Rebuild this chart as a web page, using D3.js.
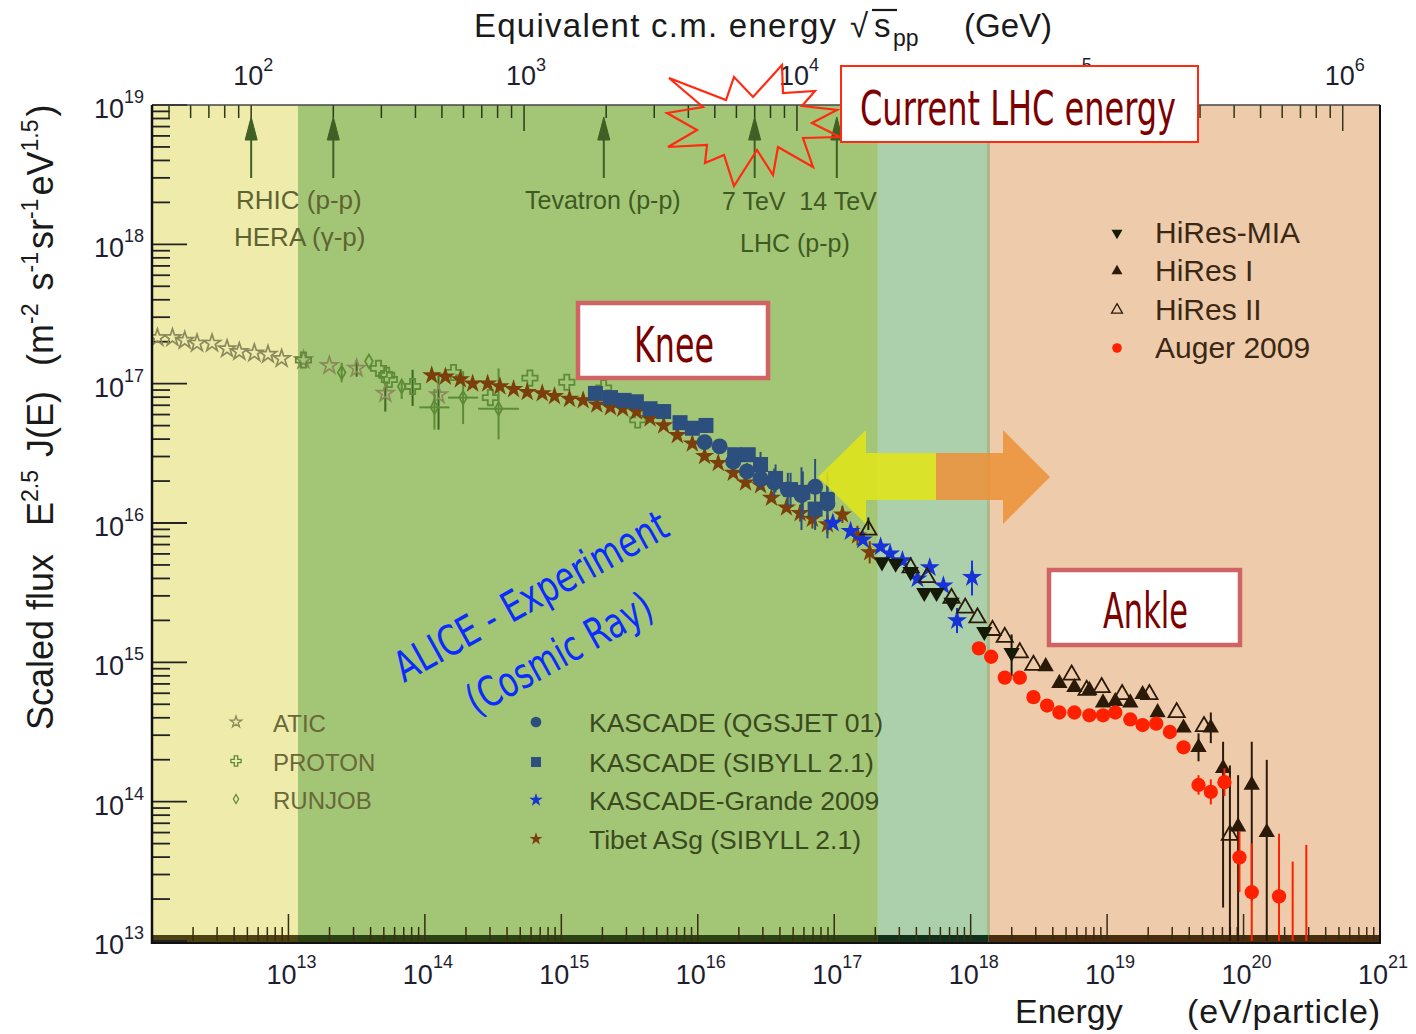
<!DOCTYPE html>
<html>
<head>
<meta charset="utf-8">
<title>Cosmic ray energy spectrum</title>
<script src="https://cdn.jsdelivr.net/npm/d3@7"></script>
<style>
  body { margin: 0; background: #fff; }
  svg { display: block; font-family: "Liberation Sans", Arial, sans-serif; }
  .narrow { font-family: "Liberation Sans Narrow", "DejaVu Sans Condensed", "Liberation Sans", sans-serif; }
</style>
</head>
<body>
<svg width="1416" height="1034"></svg>
<script>
// every point: [log10 E (eV), log10 scaled flux, err down (dex), err up (dex), x err (dex)]
const atic = [
  [12.04, 17.33], [12.15, 17.33], [12.24, 17.31], [12.33, 17.29], [12.44, 17.29],
  [12.55, 17.25], [12.64, 17.23], [12.75, 17.22], [12.85, 17.21], [12.95, 17.18],
  [13.11, 17.17], [13.30, 17.13], [13.50, 17.11, 0.06, 0.06], [13.71, 16.93, 0.13, 0.08],
  [14.10, 16.92, 0.25, 0.16]
];
const proton = [
  [13.11, 17.17], [13.66, 17.11], [13.72, 17.06], [13.74, 17.03], [13.91, 16.98, 0.14, 0.12],
  [14.21, 17.08], [14.48, 16.90], [14.77, 17.04], [15.04, 17.01], [15.31, 16.97], [15.56, 16.74]
];
const runjob = [
  [13.39, 17.08, 0.07, 0.07], [13.59, 17.16], [13.83, 16.98, 0.09, 0.05],
  [14.07, 16.83, 0.16, 0.13, 0.11], [14.28, 16.90, 0.19, 0.19, 0.11], [14.54, 16.82, 0.22, 0.29, 0.15]
];
const tibet = [
  [14.05, 17.06], [14.15, 17.05], [14.26, 17.03], [14.35, 17.00], [14.46, 17.00],
  [14.55, 16.98], [14.65, 16.96], [14.75, 16.94], [14.86, 16.93], [14.95, 16.91],
  [15.06, 16.89], [15.16, 16.88], [15.26, 16.85], [15.36, 16.83], [15.45, 16.82],
  [15.55, 16.80], [15.65, 16.75], [15.75, 16.70], [15.85, 16.63], [15.96, 16.57],
  [16.05, 16.48], [16.15, 16.43], [16.26, 16.36], [16.35, 16.29], [16.46, 16.27],
  [16.54, 16.18], [16.65, 16.11], [16.75, 16.07, 0.06, 0.06], [16.84, 16.03, 0.07, 0.07],
  [16.95, 15.99, 0.07, 0.07], [17.06, 16.06, 0.06, 0.06], [17.17, 15.91, 0.07, 0.07],
  [17.26, 15.79, 0.08, 0.08]
];
const kascadeSibyll = [
  [15.25, 16.93], [15.36, 16.90], [15.46, 16.88], [15.55, 16.87], [15.65, 16.82],
  [15.75, 16.80], [15.87, 16.72], [15.96, 16.68], [16.06, 16.70], [16.27, 16.49],
  [16.37, 16.49], [16.46, 16.42, 0.09, 0.09], [16.57, 16.32, 0.1, 0.1],
  [16.68, 16.24, 0.12, 0.12], [16.77, 16.22, 0.15, 0.15], [16.86, 16.10, 0.15, 0.15],
  [16.95, 16.17, 0.2, 0.2]
];
const kascadeQgsjet = [
  [16.05, 16.58], [16.16, 16.55], [16.26, 16.44, 0.05, 0.05], [16.36, 16.37, 0.06, 0.06],
  [16.46, 16.32, 0.08, 0.08], [16.56, 16.29, 0.1, 0.1], [16.66, 16.24, 0.12, 0.12],
  [16.76, 16.20, 0.25, 0.2], [16.86, 16.26, 0.2, 0.2], [16.95, 16.14, 0.25, 0.2]
];
const kascadeGrande = [
  [16.99, 16.00], [17.12, 15.94], [17.21, 15.88], [17.34, 15.83], [17.41, 15.78],
  [17.50, 15.73], [17.61, 15.60], [17.70, 15.68], [17.80, 15.55],
  [17.90, 15.30, 0.09, 0.09], [18.01, 15.61, 0.13, 0.12]
];
const hiresMia = [
  [17.35, 15.72], [17.45, 15.71], [17.56, 15.65], [17.66, 15.50], [17.75, 15.50],
  [17.86, 15.43], [18.10, 15.22], [18.30, 15.07, 0.17, 0.13]
];
const hiresI = [
  [18.55, 14.97], [18.65, 14.85], [18.76, 14.82], [18.87, 14.80], [18.97, 14.71],
  [19.06, 14.72], [19.17, 14.71], [19.26, 14.77], [19.37, 14.64], [19.56, 14.53],
  [19.67, 14.39, 0.1, 0.1], [19.76, 14.53, 0.11, 0.11], [19.85, 14.24, 1, 0.19],
  [19.96, 13.82, 1, 0.37], [20.06, 14.12, 0.83, 0.31], [20.17, 13.78, 1, 0.52]
];
const hiresII = [
  [17.25, 15.95, 0, 0.09], [17.56, 15.68], [17.68, 15.61], [17.86, 15.46], [17.96, 15.39],
  [18.05, 15.32], [18.16, 15.23], [18.25, 15.18], [18.36, 15.07], [18.46, 14.98],
  [18.74, 14.91], [18.85, 14.80], [18.96, 14.82], [19.11, 14.77], [19.31, 14.77],
  [19.51, 14.64], [19.71, 14.54], [19.90, 13.76, 1, 0.5]
];
const auger = [
  [18.06, 15.10], [18.15, 15.04], [18.25, 14.89], [18.36, 14.89], [18.46, 14.75],
  [18.56, 14.69], [18.65, 14.64], [18.76, 14.64], [18.87, 14.62], [18.97, 14.62],
  [19.06, 14.64], [19.17, 14.59], [19.26, 14.55], [19.36, 14.56], [19.46, 14.50],
  [19.56, 14.39], [19.67, 14.12, 0.07, 0.07], [19.76, 14.07, 0.09, 0.09],
  [19.86, 14.14, 0.1, 0.1], [19.97, 13.60, 0.25, 0.19], [20.06, 13.35, 1, 0.35],
  [20.26, 13.32, 1, 0.45]
];
const augerLimits = [[20.36, 13.57], [20.46, 13.69]]; // top of upper-limit bars

const accelerators = [100, 200, 1960, 7000, 14000]; // sqrt(s) in GeV
const bandEdges = [12, 13.07, 17.32, 18.13, 21];    // log10 E
const bandColors = ['#eeebab', '#a3c576', '#acd0ac', '#eecbab'];
const bandStrip = ['#4d4212', '#2c4212', '#12301a', '#4a2c0e'];

const yTicks = [13, 14, 15, 16, 17, 18, 19];
const xTicks = [13, 14, 15, 16, 17, 18, 19, 20, 21];
const topTicks = [2, 3, 4, 5, 6];

const legendLeft = ['ATIC', 'PROTON', 'RUNJOB'];
const legendMid = ['KASCADE (QGSJET 01)', 'KASCADE (SIBYLL 2.1)', 'KASCADE-Grande 2009', 'Tibet ASg (SIBYLL 2.1)'];
const legendRight = ['HiRes-MIA', 'HiRes I', 'HiRes II', 'Auger 2009'];

// ---------------------------------------------------------------
const L = 152, R = 1380, T = 105, B = 941;
const svg = d3.select('svg');

const x = d3.scaleLog().domain([1e12, 1e21]).range([L, R]);
const y = d3.scaleLog().domain([1e13, 1e19]).range([B, T]);
const mp = 0.938; // proton mass, GeV
const sqrtS = e => Math.sqrt(2 * mp * e / 1e9);
const xTop = d3.scaleLog().domain([sqrtS(1e12), sqrtS(1e21)]).range([L, R]);

const px = d => x(Math.pow(10, d[0]));
const py = d => y(Math.pow(10, d[1]));

svg.append('defs').append('clipPath').attr('id', 'plotclip')
  .append('rect').attr('x', L).attr('y', T).attr('width', R - L).attr('height', B - T);

// background bands
const bands = d3.range(4).map(i => ({ a: bandEdges[i], b: bandEdges[i + 1], c: bandColors[i], s: bandStrip[i] }));
svg.append('g').selectAll('rect').data(bands).join('rect')
  .attr('x', d => x(10 ** d.a)).attr('width', d => x(10 ** d.b) - x(10 ** d.a))
  .attr('y', T).attr('height', B - T).attr('fill', d => d.c);
svg.append('line').attr('x1', x(10 ** bandEdges[3])).attr('x2', x(10 ** bandEdges[3]))
  .attr('y1', T).attr('y2', B).attr('stroke', '#a9b886').attr('stroke-width', 3);
svg.append('g').selectAll('rect').data(bands).join('rect')
  .attr('x', d => x(10 ** d.a)).attr('width', d => x(10 ** d.b) - x(10 ** d.a))
  .attr('y', B - 6).attr('height', 8).attr('fill', d => d.s);

// ticks
const decades = (lo, hi) => d3.range(lo, hi).flatMap(d => d3.range(1, 10).map(k => ({ v: k * 10 ** d, major: k === 1 })))
  .concat([{ v: 10 ** hi, major: true }]);

const tg = svg.append('g').attr('stroke', '#222');
tg.selectAll('line.l').data(decades(13, 19)).join('line')
  .attr('x1', L).attr('x2', d => L + (d.major ? 35 : 18))
  .attr('y1', d => y(d.v)).attr('y2', d => y(d.v)).attr('stroke-width', 1.8);
tg.selectAll('line.b').data(decades(12, 21).filter(d => d.v > 1.5e12)).join('line')
  .attr('x1', d => x(d.v)).attr('x2', d => x(d.v))
  .attr('y1', B).attr('y2', d => B - (d.major ? 27 : 14)).attr('stroke-width', 1.5).attr('stroke', '#3a2c10');
tg.selectAll('line.t').data(decades(1, 6).filter(d => d.v > sqrtS(1e12) && d.v < sqrtS(1e21))).join('line')
  .attr('x1', d => xTop(d.v)).attr('x2', d => xTop(d.v))
  .attr('y1', T).attr('y2', d => T + (d.major ? 26 : 13)).attr('stroke-width', 1.5).attr('stroke', '#2c3a18');

// data
const plot = svg.append('g').attr('clip-path', 'url(#plotclip)');

function drawSeries(data, st) {
  const g = plot.append('g');
  g.selectAll('line.ey').data(data.filter(d => d[2] || d[3])).join('line')
    .attr('x1', px).attr('x2', px)
    .attr('y1', d => y(10 ** (d[1] - (d[2] || 0)))).attr('y2', d => y(10 ** (d[1] + (d[3] || 0))))
    .attr('stroke', st.err || st.fill).attr('stroke-width', st.ew || 2);
  g.selectAll('line.ex').data(data.filter(d => d[4])).join('line')
    .attr('y1', py).attr('y2', py)
    .attr('x1', d => x(10 ** (d[0] - d[4]))).attr('x2', d => x(10 ** (d[0] + d[4])))
    .attr('stroke', st.err || st.fill).attr('stroke-width', st.ew || 2);
  g.selectAll('path').data(data).join('path')
    .attr('transform', d => `translate(${px(d)},${py(d)})` + (st.rot ? ' rotate(180)' : ''))
    .attr('d', d3.symbol(st.type, st.size))
    .attr('fill', st.fill).attr('stroke', st.stroke || 'none').attr('stroke-width', st.sw || 0);
}

const styles = {
  ATIC: { type: d3.symbolStar, size: 90, fill: 'none', stroke: '#8a8a5c', sw: 1.7, err: '#3d661f' },
  PROTON: { type: d3.symbolCross, size: 130, fill: 'none', stroke: '#5e8b38', sw: 1.8, err: '#3d661f' },
  RUNJOB: { type: d3.symbolDiamond, size: 52, fill: 'none', stroke: '#5e8b38', sw: 1.8, err: '#5e8b38' },
  'KASCADE (QGSJET 01)': { type: d3.symbolCircle, size: 200, fill: '#2d4f7e' },
  'KASCADE (SIBYLL 2.1)': { type: d3.symbolSquare, size: 225, fill: '#2d4f7e' },
  'KASCADE-Grande 2009': { type: d3.symbolStar, size: 125, fill: '#1733d6' },
  'Tibet ASg (SIBYLL 2.1)': { type: d3.symbolStar, size: 115, fill: '#7a3f0a' },
  'HiRes-MIA': { type: d3.symbolTriangle, size: 115, fill: '#141a05', rot: true },
  'HiRes I': { type: d3.symbolTriangle, size: 115, fill: '#2b1a08' },
  'HiRes II': { type: d3.symbolTriangle, size: 115, fill: 'none', stroke: '#2b1a08', sw: 1.8, err: '#2b1a08' },
  'Auger 2009': { type: d3.symbolCircle, size: 160, fill: '#ff2000' }
};

drawSeries(atic, styles.ATIC);
drawSeries(proton, styles.PROTON);
drawSeries(runjob, styles.RUNJOB);
drawSeries(tibet, styles['Tibet ASg (SIBYLL 2.1)']);
drawSeries(kascadeSibyll, styles['KASCADE (SIBYLL 2.1)']);
drawSeries(kascadeQgsjet, styles['KASCADE (QGSJET 01)']);
drawSeries(kascadeGrande, styles['KASCADE-Grande 2009']);
drawSeries(hiresII, styles['HiRes II']);
drawSeries(hiresMia, styles['HiRes-MIA']);
drawSeries(hiresI, styles['HiRes I']);
drawSeries(auger, styles['Auger 2009']);
plot.append('g').selectAll('line').data(augerLimits).join('line')
  .attr('x1', px).attr('x2', px).attr('y1', py).attr('y2', B + 5)
  .attr('stroke', '#ff2000').attr('stroke-width', 2);

// frame
svg.append('line').attr('x1', L).attr('x2', R).attr('y1', T).attr('y2', T).attr('stroke', '#444').attr('stroke-width', 1.5);
svg.append('line').attr('x1', L).attr('x2', R + 1).attr('y1', B + 2).attr('y2', B + 2).attr('stroke', '#111').attr('stroke-width', 2);
svg.append('line').attr('x1', L).attr('x2', L).attr('y1', T).attr('y2', B + 3).attr('stroke', '#111').attr('stroke-width', 2.5);
svg.append('line').attr('x1', R).attr('x2', R).attr('y1', T).attr('y2', B + 3).attr('stroke', '#111').attr('stroke-width', 2);

// tick labels
function powLabel(sel, exp, supDy) {
  sel.append('tspan').text('10');
  sel.append('tspan').attr('dy', supDy).attr('font-size', 18).text(exp);
}
svg.append('g').selectAll('text').data(yTicks).join('text')
  .attr('x', 144).attr('y', d => y(10 ** d) + 13).attr('text-anchor', 'end')
  .attr('font-size', 27).attr('fill', '#1e1e30')
  .each(function (d) { powLabel(d3.select(this), d, -15); });
svg.append('g').selectAll('text').data(xTicks).join('text')
  .attr('x', d => x(10 ** d) + 3).attr('y', 984).attr('text-anchor', 'middle')
  .attr('font-size', 27).attr('fill', '#1e1e30')
  .each(function (d) { powLabel(d3.select(this), d, -16); });
svg.append('g').selectAll('text').data(topTicks).join('text')
  .attr('x', d => xTop(10 ** d) + 2).attr('y', 85).attr('text-anchor', 'middle')
  .attr('font-size', 27).attr('fill', '#1e1e30')
  .each(function (d) { powLabel(d3.select(this), d, -14); });

// axis titles
const title = svg.append('g').attr('fill', '#1a1a1a').attr('font-size', 33);
title.append('text').attr('x', 474).attr('y', 37).attr('textLength', 362).text('Equivalent c.m. energy');
title.append('text').attr('x', 850).attr('y', 37).text('√');
title.append('text').attr('x', 874).attr('y', 37).text('s');
title.append('text').attr('x', 893).attr('y', 46).attr('font-size', 23).text('pp');
title.append('line').attr('x1', 872).attr('x2', 897).attr('y1', 10).attr('y2', 10).attr('stroke', '#1a1a1a').attr('stroke-width', 2.2);
title.append('text').attr('x', 964).attr('y', 37).text('(GeV)');

const xt = svg.append('g').attr('fill', '#1a1a1a').attr('font-size', 34);
xt.append('text').attr('x', 1015).attr('y', 1023).text('Energy');
xt.append('text').attr('x', 1187).attr('y', 1023).attr('textLength', 193).text('(eV/particle)');

function yLabelPart(yStart, build) {
  const t = svg.append('text').attr('transform', `translate(53,${yStart}) rotate(-90)`)
    .attr('font-size', 36).attr('fill', '#1a1a1a');
  build(t);
  return t;
}
const sup = (t, s) => { t.append('tspan').attr('dy', -15).attr('font-size', 23).text(s); t.append('tspan').attr('dy', 15).text('\u200a'); };
yLabelPart(730, t => t.text('Scaled flux')).attr('textLength', 176).attr('lengthAdjust', 'spacingAndGlyphs');
yLabelPart(526, t => {
  t.append('tspan').text('E'); sup(t, '2.5'); t.append('tspan').text(' J(E)');
});
yLabelPart(366, t => {
  t.append('tspan').text('(m'); sup(t, '-2'); t.append('tspan').text(' s'); sup(t, '-1');
  t.append('tspan').text('sr'); sup(t, '-1'); t.append('tspan').text('eV'); sup(t, '1.5');
  t.append('tspan').text(')');
});

// accelerator markers
const acc = svg.append('g').attr('fill', '#3f5f25').attr('stroke', '#3f5f25');
acc.selectAll('line').data(accelerators).join('line')
  .attr('x1', d => xTop(d)).attr('x2', d => xTop(d)).attr('y1', 178).attr('y2', 130).attr('stroke-width', 2);
acc.selectAll('path').data(accelerators).join('path')
  .attr('d', d => `M${xTop(d)},117 L${xTop(d) - 6},140 L${xTop(d) + 6},140 Z`).attr('stroke-width', 1);
const accLabels = [
  ['RHIC (p-p)', 236, 209, 26], ['HERA (γ-p)', 234, 246, 26], ['Tevatron (p-p)', 525, 209, 25],
  ['7 TeV  14 TeV', 722, 210, 25], ['LHC (p-p)', 740, 252, 25]
];
svg.append('g').selectAll('text').data(accLabels).join('text')
  .attr('x', d => d[1]).attr('y', d => d[2]).attr('font-size', d => d[3])
  .attr('fill', (d, i) => i < 2 ? '#5e6431' : '#3e5a22').style('white-space', 'pre').text(d => d[0]);

// legends
function legend(names, sx, tx, ys, color, fs) {
  const g = svg.append('g');
  names.forEach((n, i) => {
    const st = styles[n];
    g.append('path').attr('transform', `translate(${sx},${ys[i]})` + (st.rot ? ' rotate(180)' : ''))
      .attr('d', d3.symbol(st.type, st.size * 0.45))
      .attr('fill', st.fill).attr('stroke', st.stroke || 'none').attr('stroke-width', st.sw ? 1.3 : 0);
    g.append('text').attr('x', tx).attr('y', ys[i] + 10).attr('font-size', fs).attr('fill', color).text(n);
  });
}
legend(legendLeft, 236, 273, [722, 761, 799], '#686838', 24);
legend(legendMid, 536, 589, [722, 762, 800, 839], '#3a4a1e', 26.5);
legend(legendRight, 1117, 1155, [233, 271, 310, 348], '#3a2814', 30);

// double arrow (knee <-> ankle)
const yellowArrow = [[818, 477], [866, 430], [866, 453], [936, 453], [936, 500], [866, 500], [866, 524]];
const orangeArrow = [[936, 453], [1003, 453], [1003, 430], [1050, 477], [1003, 524], [1003, 500], [936, 500]];
svg.append('polygon').attr('points', yellowArrow.join(' ')).attr('fill', '#dfe31c').attr('opacity', 0.9);
svg.append('polygon').attr('points', orangeArrow.join(' ')).attr('fill', '#ec923a').attr('opacity', 0.88);

// starburst around the LHC marker
const burst = [[669, 78], [726, 100], [734, 77], [753, 97], [782, 65], [783, 93], [815, 91], [802, 106],
  [837, 110], [812, 123], [840, 137], [803, 138], [813, 167], [778, 147], [773, 175], [757, 150],
  [734, 186], [724, 155], [705, 163], [707, 145], [668, 147], [697, 130], [667, 113], [703, 107]];
svg.append('polygon').attr('points', burst.join(' ')).attr('fill', 'none')
  .attr('stroke', '#ff2a10').attr('stroke-width', 2.2).attr('stroke-linejoin', 'miter');

// annotation boxes
function box(x0, y0, w, h, stroke, sw, label, tx, ty, tl, fs) {
  svg.append('rect').attr('x', x0).attr('y', y0).attr('width', w).attr('height', h)
    .attr('fill', '#fff').attr('stroke', stroke).attr('stroke-width', sw);
  svg.append('text').attr('class', 'narrow').attr('x', tx).attr('y', ty).attr('font-size', fs)
    .attr('fill', '#7c0000').attr('textLength', tl).attr('lengthAdjust', 'spacingAndGlyphs').text(label);
}
box(841, 66, 357, 76, '#ff2a10', 2, 'Current LHC energy', 860, 125, 316, 48);
box(578, 303, 190, 75, '#d06464', 4.5, 'Knee', 634, 362, 80, 50);
box(1049, 570, 191, 75, '#d06464', 4.5, 'Ankle', 1103, 628, 85, 50);

// ALICE text
const alice = svg.append('g').attr('class', 'narrow').attr('fill', '#0a2cff').attr('font-size', 42);
alice.append('text').attr('transform', 'translate(404,683) rotate(-29)')
  .attr('textLength', 306).attr('lengthAdjust', 'spacingAndGlyphs').text('ALICE - Experiment');
alice.append('text').attr('transform', 'translate(476,716) rotate(-29)')
  .attr('textLength', 206).attr('lengthAdjust', 'spacingAndGlyphs').text('(Cosmic Ray)');
</script>
</body>
</html>
